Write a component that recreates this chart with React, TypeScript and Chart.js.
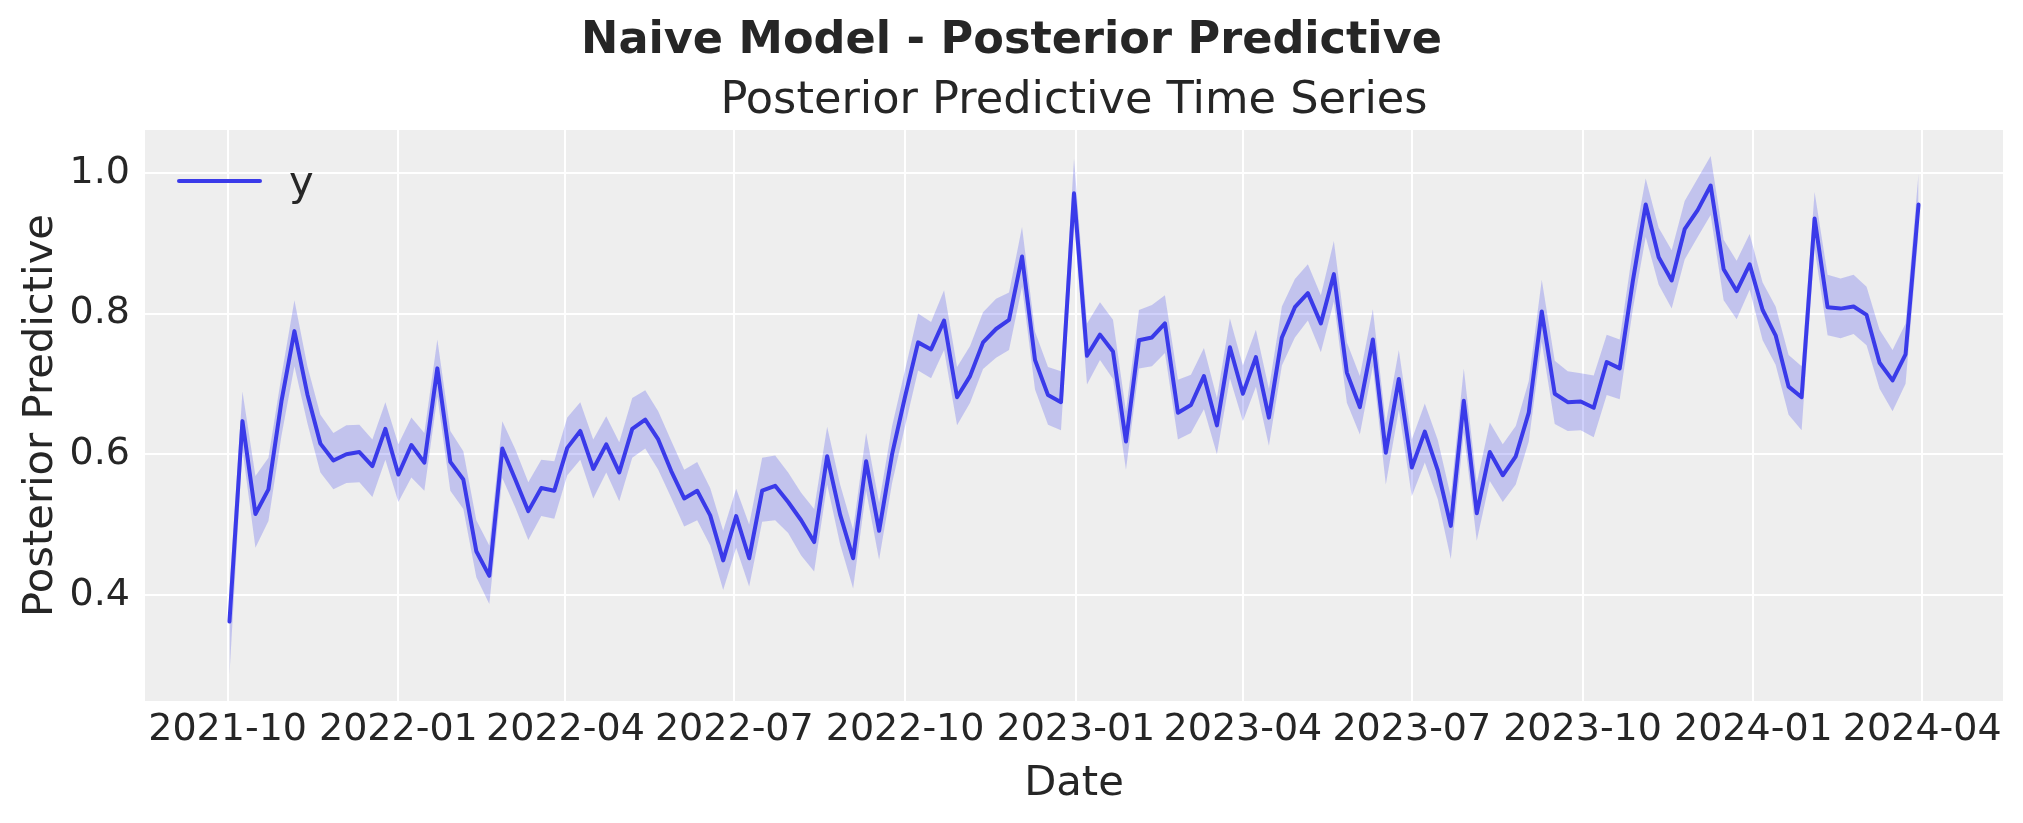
import React, { useEffect, useRef } from "react";
import { Chart, registerables } from "chart.js";

Chart.register(...registerables);

// ---- data ----
const START_DATE = "2021-10-02"; // first weekly observation
const WEEK_MS = 7 * 24 * 3600 * 1000;

const yMean = [
  0.362, 0.647, 0.515, 0.55, 0.675, 0.775, 0.685, 0.615, 0.591, 0.6,
  0.603, 0.583, 0.636, 0.571, 0.613, 0.588, 0.722, 0.589, 0.564, 0.462,
  0.427, 0.608, 0.564, 0.519, 0.552, 0.548, 0.609, 0.633, 0.579, 0.614,
  0.574, 0.636, 0.649, 0.621, 0.576, 0.537, 0.548, 0.513, 0.449, 0.512,
  0.452, 0.548, 0.555, 0.532, 0.506, 0.475, 0.597, 0.514, 0.452, 0.59,
  0.491, 0.6, 0.682, 0.759, 0.749, 0.79, 0.681, 0.711, 0.759, 0.778,
  0.791, 0.881, 0.734, 0.684, 0.674, 0.971, 0.74, 0.77, 0.746, 0.618,
  0.762, 0.766, 0.786, 0.659, 0.67, 0.711, 0.641, 0.752, 0.686, 0.738,
  0.652, 0.766, 0.809, 0.829, 0.786, 0.856, 0.716, 0.667, 0.763, 0.602,
  0.707, 0.581, 0.632, 0.577, 0.498, 0.676, 0.516, 0.603, 0.57, 0.597,
  0.659, 0.803, 0.686, 0.674, 0.675, 0.666, 0.731, 0.722, 0.845, 0.955,
  0.88, 0.847, 0.92, 0.947, 0.982, 0.863, 0.832, 0.87, 0.805, 0.769,
  0.696, 0.681, 0.935, 0.809, 0.807, 0.81, 0.798, 0.73, 0.705, 0.742,
  0.955,
];

const yLower = [
  0.286, 0.607, 0.467, 0.505, 0.626, 0.725, 0.644, 0.574, 0.55, 0.559,
  0.56, 0.539, 0.592, 0.532, 0.567, 0.548, 0.682, 0.548, 0.522, 0.425,
  0.387, 0.566, 0.524, 0.478, 0.512, 0.508, 0.57, 0.592, 0.537, 0.574,
  0.533, 0.595, 0.608, 0.578, 0.538, 0.497, 0.506, 0.47, 0.407, 0.467,
  0.412, 0.504, 0.506, 0.488, 0.456, 0.433, 0.557, 0.472, 0.409, 0.548,
  0.45, 0.559, 0.64, 0.719, 0.708, 0.748, 0.641, 0.673, 0.721, 0.737,
  0.748, 0.838, 0.692, 0.642, 0.634, 0.93, 0.699, 0.734, 0.707, 0.578,
  0.722, 0.725, 0.744, 0.621, 0.63, 0.664, 0.6, 0.708, 0.647, 0.696,
  0.612, 0.726, 0.766, 0.79, 0.745, 0.817, 0.673, 0.628, 0.725, 0.557,
  0.663, 0.54, 0.588, 0.536, 0.451, 0.631, 0.477, 0.562, 0.532, 0.557,
  0.618, 0.76, 0.643, 0.633, 0.634, 0.624, 0.684, 0.678, 0.805, 0.909,
  0.841, 0.807, 0.877, 0.909, 0.94, 0.819, 0.792, 0.834, 0.762, 0.727,
  0.656, 0.634, 0.893, 0.769, 0.765, 0.771, 0.755, 0.693, 0.661, 0.7,
  0.914,
];

const yUpper = [
  0.41, 0.689, 0.569, 0.595, 0.711, 0.819, 0.725, 0.656, 0.63, 0.641,
  0.642, 0.621, 0.674, 0.614, 0.652, 0.63, 0.763, 0.633, 0.604, 0.506,
  0.47, 0.647, 0.607, 0.56, 0.592, 0.59, 0.652, 0.674, 0.621, 0.654,
  0.617, 0.68, 0.691, 0.661, 0.619, 0.578, 0.589, 0.552, 0.491, 0.551,
  0.5, 0.595, 0.598, 0.574, 0.545, 0.522, 0.639, 0.557, 0.493, 0.63,
  0.531, 0.64, 0.72, 0.8, 0.788, 0.833, 0.724, 0.754, 0.802, 0.821,
  0.83, 0.923, 0.774, 0.724, 0.718, 1.02, 0.786, 0.816, 0.791, 0.661,
  0.805, 0.812, 0.826, 0.706, 0.713, 0.751, 0.68, 0.793, 0.726, 0.777,
  0.693, 0.81, 0.849, 0.87, 0.826, 0.903, 0.759, 0.711, 0.806, 0.644,
  0.748, 0.621, 0.672, 0.62, 0.54, 0.722, 0.559, 0.645, 0.614, 0.64,
  0.704, 0.848, 0.733, 0.718, 0.715, 0.712, 0.77, 0.763, 0.89, 0.992,
  0.922, 0.89, 0.96, 0.992, 1.024, 0.905, 0.875, 0.913, 0.844, 0.81,
  0.741, 0.725, 0.973, 0.855, 0.85, 0.855, 0.838, 0.777, 0.748, 0.786,
  0.999,
];

const X_TICK_DATES = [
  "2021-10-01", "2022-01-01", "2022-04-01", "2022-07-01", "2022-10-01",
  "2023-01-01", "2023-04-01", "2023-07-01", "2023-10-01", "2024-01-01",
  "2024-04-01",
];
const Y_TICKS = [0.4, 0.6, 0.8, 1.0];
const X_MIN_DATE = "2021-08-17T12:00:00Z";
const X_MAX_DATE = "2024-05-14T12:00:00Z";
const Y_MIN = 0.249;
const Y_MAX = 1.061;

const TITLE = "Naive Model - Posterior Predictive";
const SUBTITLE = "Posterior Predictive Time Series";
const X_LABEL = "Date";
const Y_LABEL = "Posterior Predictive";
const SERIES_LABEL = "y";

// ---- style ----
const FONT = "'DejaVu Sans', 'Liberation Sans', sans-serif";
const TEXT = "#262626";
const LINE = "#3a3ae9";
const BAND = "rgba(42,46,236,0.22)";
const FACE = "#eeeeee";

const toMs = (d: string) => Date.parse(d.length <= 10 ? d + "T00:00:00Z" : d);

export default function App() {
  const ref = useRef<HTMLCanvasElement | null>(null);

  useEffect(() => {
    if (!ref.current) return;
    const t0 = toMs(START_DATE);
    const xs = yMean.map((_, i) => t0 + i * WEEK_MS);
    const pts = (arr: number[]) => arr.map((v, i) => ({ x: xs[i], y: v }));

    const bgPlugin = {
      id: "bg",
      beforeDraw(chart: any) {
        const { ctx, chartArea: a } = chart;
        ctx.save();
        ctx.fillStyle = "#ffffff";
        ctx.fillRect(0, 0, chart.width, chart.height);
        ctx.fillStyle = FACE;
        ctx.fillRect(a.left, a.top, a.right - a.left, a.bottom - a.top);
        ctx.restore();
      },
    };

    const textPlugin = {
      id: "texts",
      afterDraw(chart: any) {
        const { ctx, chartArea: a } = chart;
        ctx.save();
        ctx.fillStyle = TEXT;
        ctx.textBaseline = "alphabetic";
        ctx.textAlign = "center";
        ctx.font = `bold 44.6px ${FONT}`;
        ctx.fillText(TITLE, chart.width / 2, 53);
        ctx.font = `44.7px ${FONT}`;
        ctx.fillText(SUBTITLE, (a.left + a.right) / 2, 113);
        // legend
        ctx.strokeStyle = LINE;
        ctx.lineWidth = 4;
        ctx.lineCap = "round";
        ctx.beginPath();
        ctx.moveTo(a.left + 34, 181);
        ctx.lineTo(a.left + 115, 181);
        ctx.stroke();
        ctx.textAlign = "left";
        ctx.font = `41.7px ${FONT}`;
        ctx.fillText(SERIES_LABEL, a.left + 144, 195);
        ctx.restore();
      },
    };

    const chart = new Chart(ref.current, {
      type: "line",
      data: {
        datasets: [
          {
            label: SERIES_LABEL,
            data: pts(yMean),
            borderColor: LINE,
            borderWidth: 4,
            borderCapStyle: "round",
            borderJoinStyle: "round",
            pointRadius: 0,
            tension: 0,
            fill: false,
            order: 0,
          },
          {
            label: "lower",
            data: pts(yLower),
            borderWidth: 0,
            borderColor: "rgba(0,0,0,0)",
            pointRadius: 0,
            tension: 0,
            fill: false,
            order: 1,
          },
          {
            label: "upper",
            data: pts(yUpper),
            borderWidth: 0,
            borderColor: "rgba(0,0,0,0)",
            backgroundColor: BAND,
            pointRadius: 0,
            tension: 0,
            fill: "-1",
            order: 2,
          },
        ],
      },
      options: {
        responsive: false,
        maintainAspectRatio: false,
        devicePixelRatio: 1,
        animation: false,
        layout: { padding: { top: 130, right: 20, bottom: 0, left: 0 } },
        plugins: {
          legend: { display: false },
          tooltip: { enabled: false },
          title: { display: false },
        },
        scales: {
          x: {
            type: "linear",
            min: toMs(X_MIN_DATE),
            max: toMs(X_MAX_DATE),
            afterFit: (s: any) => {
              s.height = 122;
            },
            afterBuildTicks: (s: any) => {
              s.ticks = X_TICK_DATES.map((d) => ({ value: toMs(d) }));
            },
            grid: { color: "#ffffff", lineWidth: 2, drawTicks: false },
            border: { display: false },
            ticks: {
              autoSkip: false,
              maxRotation: 0,
              padding: 6,
              color: TEXT,
              font: { family: FONT, size: 38 },
              callback: (v: any) => {
                const d = new Date(Number(v));
                return `${d.getUTCFullYear()}-${String(d.getUTCMonth() + 1).padStart(2, "0")}`;
              },
            },
            title: {
              display: true,
              text: X_LABEL,
              color: TEXT,
              font: { family: FONT, size: 41.7 },
              padding: { top: 0, bottom: 14 },
            },
          },
          y: {
            type: "linear",
            min: Y_MIN,
            max: Y_MAX,
            afterFit: (s: any) => {
              s.width = 145;
            },
            afterBuildTicks: (s: any) => {
              s.ticks = Y_TICKS.map((v) => ({ value: v }));
            },
            grid: { color: "#ffffff", lineWidth: 2, drawTicks: false },
            border: { display: false },
            ticks: {
              padding: 15,
              color: TEXT,
              font: { family: FONT, size: 38 },
              callback: (v: any) => Number(v).toFixed(1),
            },
            title: {
              display: true,
              text: Y_LABEL,
              color: TEXT,
              font: { family: FONT, size: 41.7 },
              padding: { top: 16, bottom: 0 },
            },
          },
        },
      },
      plugins: [bgPlugin, textPlugin],
    } as any);

    return () => chart.destroy();
  }, []);

  return (
    <div
      style={{
        position: "absolute",
        left: 0,
        top: 0,
        width: 2023,
        height: 823,
        background: "#ffffff",
      }}
    >
      <canvas
        ref={ref}
        width={2023}
        height={823}
        style={{ width: 2023, height: 823, display: "block" }}
      />
    </div>
  );
}
